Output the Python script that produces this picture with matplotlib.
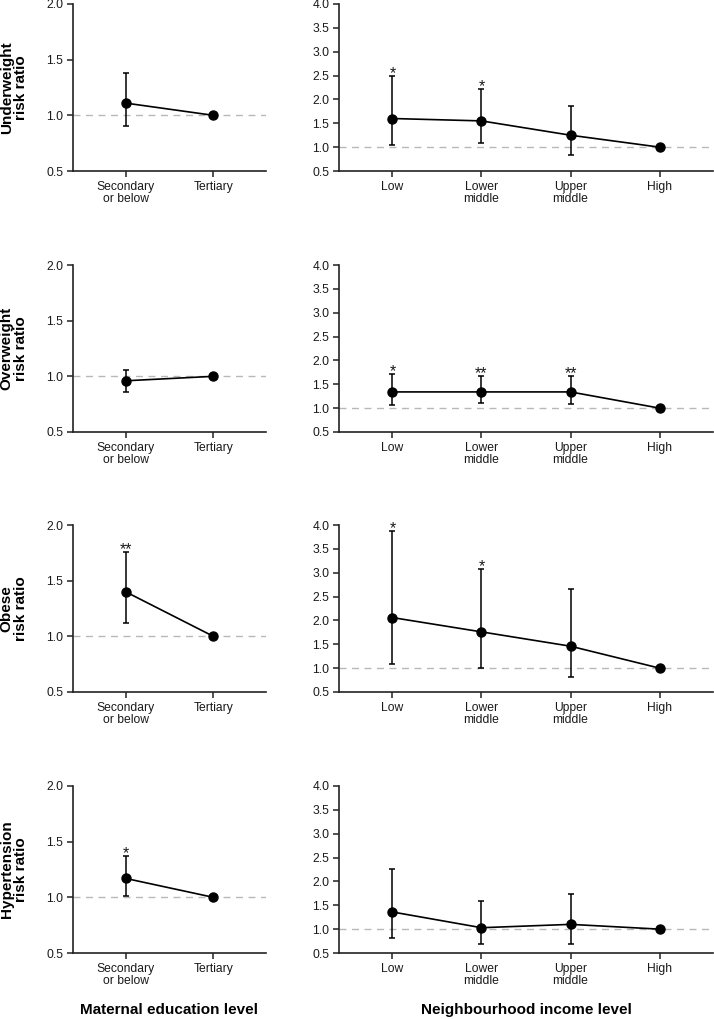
import matplotlib
matplotlib.use("Agg")
import matplotlib.pyplot as plt
import numpy as np

plt.rcParams['font.family'] = ['Liberation Sans', 'DejaVu Sans']

# ---- data ----
edu_cats = ["Secondary\nor below", "Tertiary"]
inc_cats = ["Low", "Lower\nmiddle", "Upper\nmiddle", "High"]
outcome_labels = ["Underweight\nrisk ratio", "Overweight\nrisk ratio",
                  "Obese\nrisk ratio", "Hypertension\nrisk ratio"]

edu_rr = [[1.11, 1.00], [0.96, 1.00], [1.40, 1.00], [1.17, 1.00]]
edu_lo = [[0.90, 1.00], [0.86, 1.00], [1.12, 1.00], [1.01, 1.00]]
edu_hi = [[1.38, 1.00], [1.06, 1.00], [1.76, 1.00], [1.37, 1.00]]
edu_sig = [["", ""], ["", ""], ["**", ""], ["*", ""]]

inc_rr = [[1.60, 1.55, 1.25, 1.00],
          [1.34, 1.34, 1.34, 1.00],
          [2.06, 1.76, 1.46, 1.00],
          [1.36, 1.03, 1.10, 1.00]]
inc_lo = [[1.04, 1.08, 0.84, 1.00],
          [1.06, 1.10, 1.08, 1.00],
          [1.09, 1.01, 0.81, 1.00],
          [0.81, 0.68, 0.69, 1.00]]
inc_hi = [[2.49, 2.22, 1.86, 1.00],
          [1.72, 1.67, 1.67, 1.00],
          [3.88, 3.07, 2.65, 1.00],
          [2.27, 1.59, 1.74, 1.00]]
inc_sig = [["*", "*", "", ""],
           ["*", "**", "**", ""],
           ["*", "*", "", ""],
           ["", "", "", ""]]

edu_yticks = [0.5, 1.0, 1.5, 2.0]
inc_yticks = [0.5, 1.0, 1.5, 2.0, 2.5, 3.0, 3.5, 4.0]

W, H = 714, 1019
fig = plt.figure(figsize=(W / 100, H / 100), dpi=100)

row_tops = [4, 265, 525, 786]
panel_h = 167
left_x0, left_w = 73, 193
right_x0, right_w = 339, 374

spine_col = '#222222'


def style_ax(ax, yticks, cats):
    for s in ['top', 'right']:
        ax.spines[s].set_visible(False)
    for s in ['left', 'bottom']:
        ax.spines[s].set_color(spine_col)
        ax.spines[s].set_linewidth(1.2)
    ax.set_ylim(yticks[0], yticks[-1])
    ax.set_yticks(yticks)
    ax.set_yticklabels([f"{t:.1f}" for t in yticks])
    ax.set_xticks(range(len(cats)))
    ax.set_xticklabels(cats, linespacing=1.05)
    ax.set_xlim(-0.6, len(cats) - 0.4)
    ax.tick_params(direction='out', length=4, width=1.1, colors=spine_col,
                   labelsize=8.7, labelcolor='#1a1a1a', pad=3)
    ax.axhline(1.0, color='#b8b8b8', lw=1.0, ls=(0, (5, 4)), zorder=0)


def draw(ax, rr, lo, hi, sig):
    x = np.arange(len(rr))
    rr = np.asarray(rr); lo = np.asarray(lo); hi = np.asarray(hi)
    ax.errorbar(x, rr, yerr=[rr - lo, hi - rr], fmt='o-', color='black',
                ms=6.5, lw=1.2, elinewidth=1.1, capsize=2.5, capthick=1.1,
                zorder=3)
    for xi, h, s in zip(x, hi, sig):
        if s:
            ax.annotate(s, (xi, h), xytext=(0, -1.5), textcoords='offset points',
                        ha='center', va='baseline', fontsize=11.5, color='#1a1a1a')


for i in range(4):
    top = row_tops[i]
    bottom = 1 - (top + panel_h) / H
    axl = fig.add_axes([left_x0 / W, bottom, left_w / W, panel_h / H])
    axr = fig.add_axes([right_x0 / W, bottom, right_w / W, panel_h / H])
    style_ax(axl, edu_yticks, edu_cats)
    style_ax(axr, inc_yticks, inc_cats)
    draw(axl, edu_rr[i], edu_lo[i], edu_hi[i], edu_sig[i])
    draw(axr, inc_rr[i], inc_lo[i], inc_hi[i], inc_sig[i])
    axl.set_ylabel(outcome_labels[i], fontsize=11, fontweight='bold',
                   linespacing=1.05, va='center')
    axl.yaxis.set_label_coords((14 - left_x0) / left_w, 0.5)
    if i == 3:
        axl.set_xlabel("Maternal education level", fontsize=11, fontweight='bold',
                       va='center')
        axl.xaxis.set_label_coords(0.5, -(1011 - 954) / panel_h)
        axr.set_xlabel("Neighbourhood income level", fontsize=11, fontweight='bold',
                       va='center')
        axr.xaxis.set_label_coords(0.5, -(1011 - 954) / panel_h)

fig.savefig("out.png", dpi=100)
